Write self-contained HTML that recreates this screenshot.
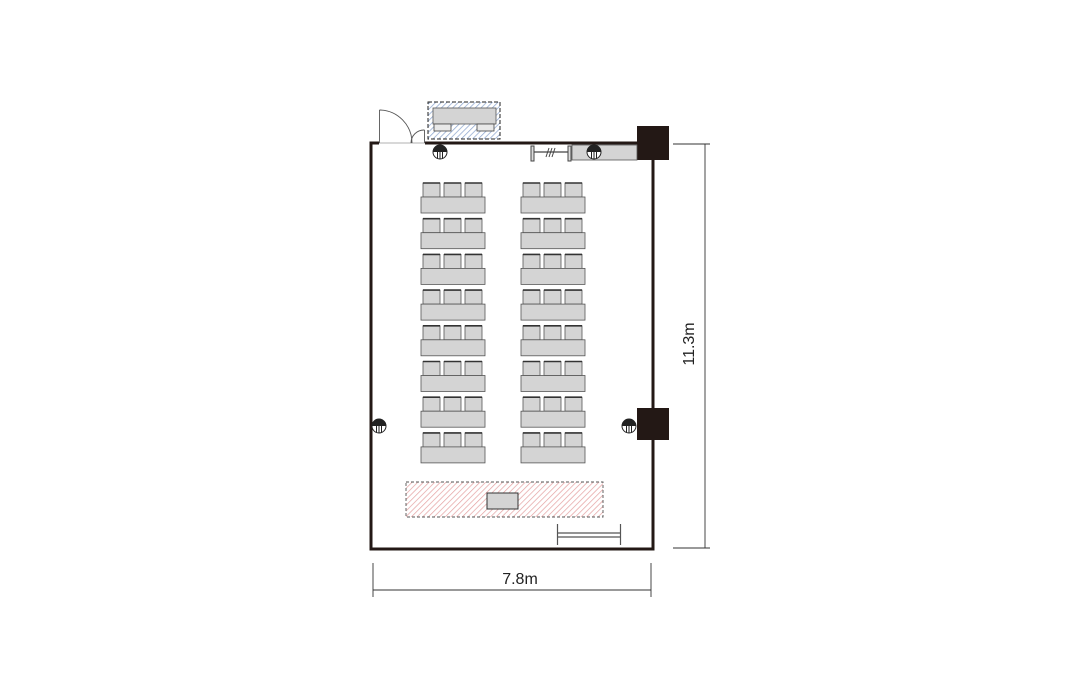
<!DOCTYPE html>
<html><head><style>body{margin:0;background:#fff}svg{display:block}</style></head><body>
<svg width="1079" height="696" viewBox="0 0 1079 696" xmlns="http://www.w3.org/2000/svg" font-family="Liberation Sans, sans-serif">
<defs>
<pattern id="bh" width="4" height="4" patternUnits="userSpaceOnUse" patternTransform="rotate(45)"><rect width="4" height="4" fill="#fff"/><line x1="0" y1="0" x2="0" y2="4" stroke="#8fa8d0" stroke-width="1.5"/></pattern>
<pattern id="rh" width="4" height="4" patternUnits="userSpaceOnUse" patternTransform="rotate(45)"><rect width="4" height="4" fill="#fff"/><line x1="0" y1="0" x2="0" y2="4" stroke="#e4a0a0" stroke-width="1.4"/></pattern>
<g id="chair"><rect x="0" y="1.5" width="17" height="14" fill="#d4d4d4" stroke="#555" stroke-width="0.8"/><line x1="0" y1="1.5" x2="17" y2="1.5" stroke="#333" stroke-width="1.6"/></g>
<g id="set"><use href="#chair" x="2"/><use href="#chair" x="23"/><use href="#chair" x="44"/><rect x="0" y="15.5" width="64" height="16" fill="#d4d4d4" stroke="#555" stroke-width="0.8"/></g>
<g id="pil"><circle r="7" fill="#fff" stroke="#222" stroke-width="1"/><path d="M-7,0 A7,7 0 0 1 7,0 Z" fill="#222"/><line x1="-2.5" y1="0" x2="-2.5" y2="6.5" stroke="#222"/><line x1="0" y1="0" x2="0" y2="7" stroke="#222"/><line x1="2.5" y1="0" x2="2.5" y2="6.5" stroke="#222"/></g>
</defs>
<!-- walls -->
<g stroke="#231815" stroke-width="3" fill="none">
<path d="M379,143 H371 V549 H653 V160"/>
<path d="M425,143 H640"/>
</g>
<line x1="379" y1="143" x2="425" y2="143" stroke="#999" stroke-width="0.8"/>
<rect x="637" y="126" width="32" height="34" fill="#231815"/>
<rect x="637" y="408" width="32" height="32" fill="#231815"/>
<!-- door -->
<g stroke="#555" stroke-width="0.9" fill="none">
<line x1="379.5" y1="110" x2="379.5" y2="143"/>
<path d="M379.5,110 A33,33 0 0 1 412,143"/>
<line x1="424.5" y1="130" x2="424.5" y2="143"/>
<path d="M411,143 A13,13 0 0 1 424.5,130"/>
</g>
<!-- blue box -->
<rect x="428" y="102" width="72" height="37" fill="url(#bh)" stroke="#222" stroke-width="1" stroke-dasharray="4,2"/>
<rect x="433" y="108" width="63" height="16" fill="#d4d4d4" stroke="#555" stroke-width="0.8"/>
<rect x="434" y="124" width="17" height="7" fill="#e8e8e8" stroke="#444" stroke-width="0.8"/>
<rect x="477" y="124" width="17" height="7" fill="#e8e8e8" stroke="#444" stroke-width="0.8"/>
<!-- top right items -->
<rect x="572" y="145" width="65" height="15" fill="#d4d4d4" stroke="#555" stroke-width="0.8"/>
<g stroke="#444" fill="none" stroke-width="1">
<rect x="531" y="146" width="3" height="15" fill="#ddd"/><rect x="568" y="146" width="3" height="15" fill="#ddd"/>
<line x1="534" y1="152" x2="568" y2="152" stroke-width="1.3"/>
<line x1="546" y1="157" x2="549" y2="148"/><line x1="549" y1="157" x2="552" y2="148"/><line x1="552" y1="157" x2="555" y2="148"/>
</g>
<use href="#pil" x="440" y="152"/>
<use href="#pil" x="594" y="152"/>
<use href="#pil" x="379" y="426"/>
<use href="#pil" x="629" y="426"/>
<!-- tables -->
<g>
<use href="#set" x="421" y="181.5"/><use href="#set" x="521" y="181.5"/>
<use href="#set" x="421" y="217.2"/><use href="#set" x="521" y="217.2"/>
<use href="#set" x="421" y="252.9"/><use href="#set" x="521" y="252.9"/>
<use href="#set" x="421" y="288.6"/><use href="#set" x="521" y="288.6"/>
<use href="#set" x="421" y="324.3"/><use href="#set" x="521" y="324.3"/>
<use href="#set" x="421" y="360"/><use href="#set" x="521" y="360"/>
<use href="#set" x="421" y="395.7"/><use href="#set" x="521" y="395.7"/>
<use href="#set" x="421" y="431.4"/><use href="#set" x="521" y="431.4"/>
</g>
<!-- stage -->
<rect x="406" y="482" width="197" height="35" fill="url(#rh)" stroke="#555" stroke-width="0.9" stroke-dasharray="3,2"/>
<rect x="487" y="493" width="31" height="16" fill="#d4d4d4" stroke="#333" stroke-width="1"/>
<!-- bench -->
<g stroke="#555" stroke-width="1.2"><line x1="557.5" y1="524" x2="557.5" y2="545"/><line x1="620.5" y1="524" x2="620.5" y2="545"/><line x1="558" y1="533" x2="620" y2="533"/><line x1="558" y1="537" x2="620" y2="537"/></g>
<!-- dimensions -->
<g stroke="#333" stroke-width="0.9">
<line x1="705" y1="144" x2="705" y2="548"/><line x1="673" y1="144" x2="710" y2="144"/><line x1="673" y1="548" x2="710" y2="548"/>
<line x1="373" y1="590" x2="651" y2="590"/><line x1="373" y1="563" x2="373" y2="597"/><line x1="651" y1="563" x2="651" y2="597"/>
</g>
<text x="520" y="584" font-size="16" text-anchor="middle" fill="#222">7.8m</text>
<text transform="translate(694,344) rotate(-90)" font-size="16" text-anchor="middle" fill="#222">11.3m</text>
</svg>
</body></html>
